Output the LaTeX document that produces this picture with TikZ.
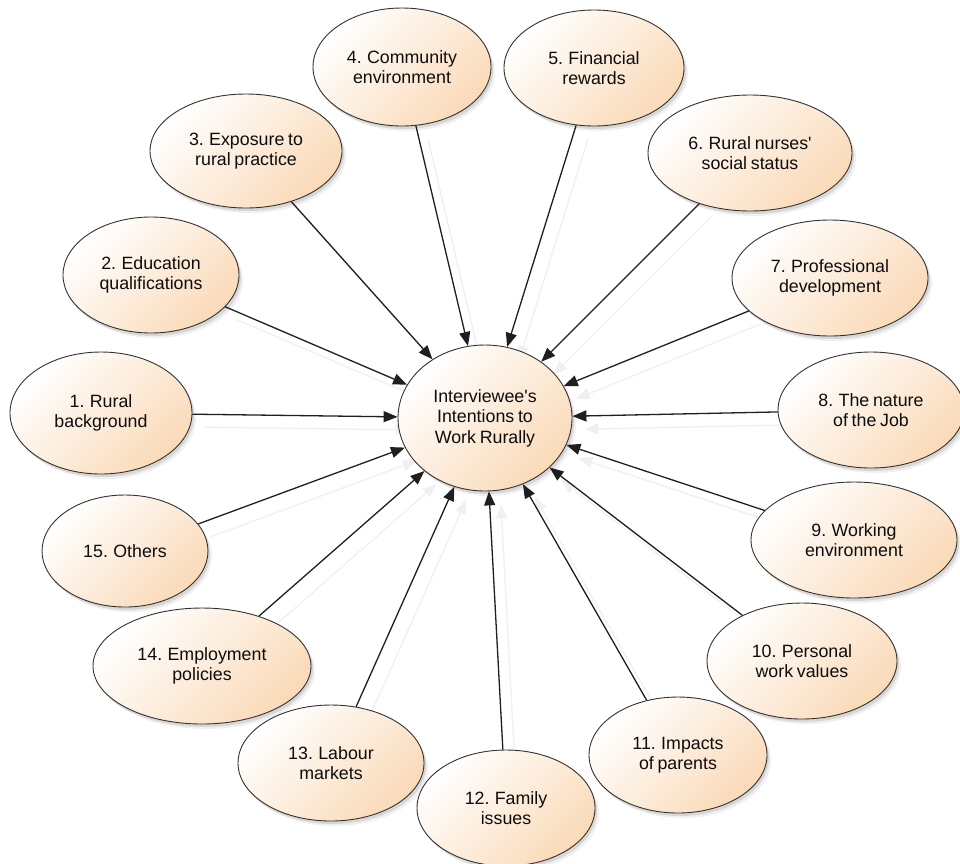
\documentclass[tikz,border=0pt]{standalone}
\usepackage{fontspec}
\setmainfont{Liberation Sans}[Ligatures=TeXOff,WordSpace=0.75]
\usetikzlibrary{shapes.geometric,arrows.meta,shadows}
\pgfdeclarelayer{bg}
\pgfsetlayers{bg,main}
\definecolor{peach}{RGB}{250,218,184}
\begin{document}
\begin{tikzpicture}[x=1pt,y=-1pt,
  bub/.style={ellipse, draw=black!80, line width=0.9pt, inner sep=0pt, align=center,
    font=\fontsize{17.8pt}{20.5pt}\selectfont, text=black!95,
    top color=white, bottom color=peach, shading angle=45,
    drop shadow={shadow xshift=2pt,shadow yshift=-3pt,opacity=.10,fill=black},
    drop shadow={shadow xshift=4pt,shadow yshift=-5pt,opacity=.06,fill=black}},
  con/.style={line width=1.3pt, draw=black!88, -{Triangle[length=14pt,width=11pt]}},
  ghost/.style={line width=1.3pt, draw=black!6, -{Triangle[length=14pt,width=11pt]},
    transform canvas={shift={(12pt,-13pt)}}}]
\useasboundingbox (0,0) rectangle (960,863);

\node[bub, minimum width=174pt, minimum height=146pt] (c) at (485,418) {Interviewee's\\Intentions to\\Work Rurally};
\node[bub, minimum width=182pt, minimum height=122pt] (n1) at (101,413) {1. Rural\\background};
\node[bub, minimum width=176pt, minimum height=116pt] (n2) at (151,275) {2. Education\\qualifications};
\node[bub, minimum width=192pt, minimum height=114pt] (n3) at (246,151) {3. Exposure to\\rural practice};
\node[bub, minimum width=178pt, minimum height=118pt] (n4) at (402,67) {4. Community\\environment};
\node[bub, minimum width=180pt, minimum height=116pt] (n5) at (594,68) {5. Financial\\rewards};
\node[bub, minimum width=204pt, minimum height=116pt] (n6) at (750,153) {6. Rural nurses'\\social status};
\node[bub, minimum width=196pt, minimum height=116pt] (n7) at (830,278) {7. Professional\\development};
\node[bub, minimum width=186pt, minimum height=116pt] (n8) at (871,410) {8. The nature\\of the Job};
\node[bub, minimum width=206pt, minimum height=116pt] (n9) at (854,540) {9. Working\\environment};
\node[bub, minimum width=190pt, minimum height=116pt] (n10) at (802,661) {10. Personal\\work values};
\node[bub, minimum width=178pt, minimum height=116pt] (n11) at (678,755) {11. Impacts\\of parents};
\node[bub, minimum width=178pt, minimum height=116pt] (n12) at (506,808) {12. Family\\issues};
\node[bub, minimum width=186pt, minimum height=116pt] (n13) at (331,763) {13. Labour\\markets};
\node[bub, minimum width=218pt, minimum height=116pt] (n14) at (202,666) {14. Employment\\policies};
\node[bub, minimum width=166pt, minimum height=112pt] (n15) at (125,551) {15. Others};

\begin{pgfonlayer}{bg}
\fill[white] (0,0) rectangle (960,863);
\foreach \i in {1,...,15} \draw[ghost] (n\i) -- (c);
\end{pgfonlayer}
\foreach \i in {1,...,15} \draw[con] (n\i) -- (c);
\end{tikzpicture}
\end{document}
